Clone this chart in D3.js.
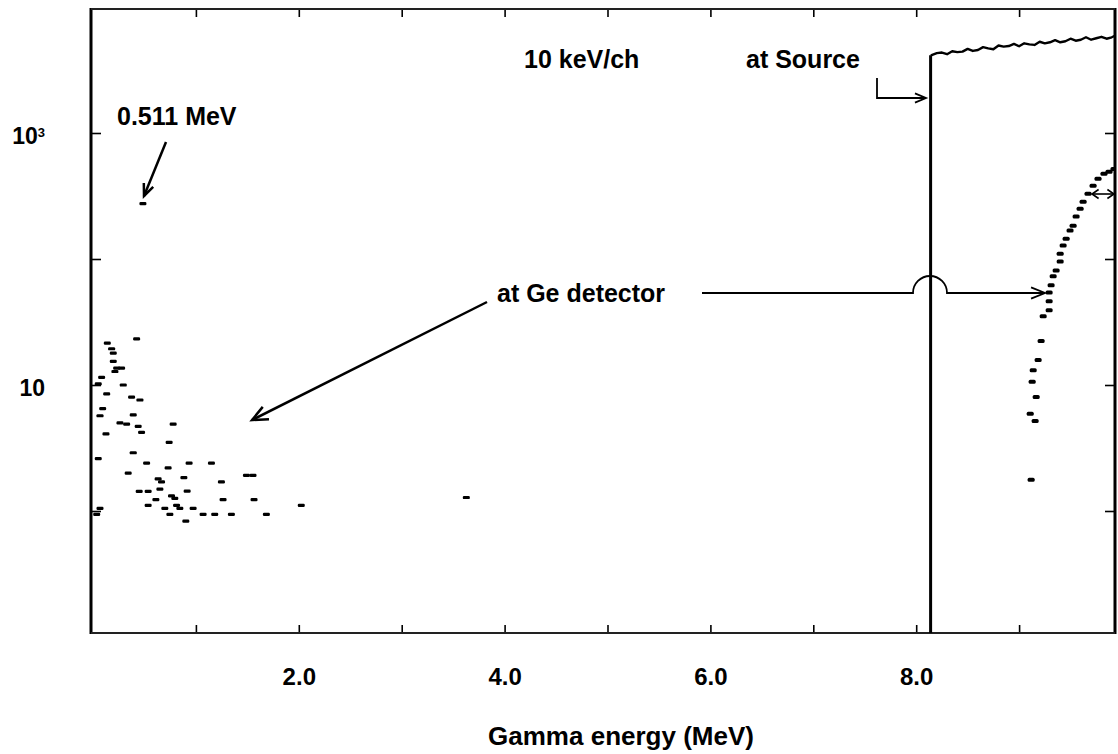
<!DOCTYPE html>
<html><head><meta charset="utf-8">
<script src="https://cdn.jsdelivr.net/npm/d3@7"></script>
<style>
body{margin:0;background:#fff}
svg{display:block}
text{font-family:"Liberation Sans",Arial,Helvetica,sans-serif;font-weight:bold;fill:#000}
</style>
</head><body>
<svg id="c" width="1118" height="754"></svg>
<script>
// ---------------- data ----------------
const xTicks = [1, 2, 3, 4, 5, 6, 7, 8, 9];
const xTickLabels = {2: "2.0", 4: "4.0", 6: "6.0", 8: "8.0"};
const yTicks = [1, 10, 100, 1000];

// "at Source" spectrum (counts / 10 keV channel)
const sourceEdge = 8.14;
const sourceEnergy = [8.15,8.20,8.25,8.30,8.35,8.40,8.45,8.50,8.55,8.60,8.65,8.70,8.75,8.80,8.85,8.90,8.95,9.00,
                      9.05,9.10,9.15,9.20,9.25,9.30,9.35,9.40,9.45,9.50,9.55,9.60,9.65,9.70,9.75,9.80,9.85,9.90,9.93];
const sourceCounts = [4150,4300,4350,4220,4450,4380,4420,4650,4480,4560,4800,4700,4620,4950,4850,4900,5100,4880,
                      5150,5050,5000,5300,5150,5250,5450,5250,5350,5600,5400,5500,5750,5500,5650,5800,5600,5750,5900];

// "at Ge detector" spectrum, low-energy part
const geLowEnergy = [0.424,0.139,0.181,0.197,0.197,0.230,0.278,0.213,0.084,0.294,0.051,0.133,0.375,0.456,0.094,0.068,
                     0.391,0.262,0.327,0.439,0.472,0.779,0.126,0.740,0.391,0.051,0.521,0.730,0.934,1.151,0.342,0.633,
                     0.666,0.883,1.248,1.491,1.555,0.650,0.449,0.536,0.915,0.763,0.795,0.611,1.264,1.565,0.536,0.812,
                     0.698,0.844,0.973,0.068,0.036,0.747,1.070,1.183,1.345,1.685,2.024,0.902,3.628,0.485];
const geLowCounts  = [23.2,21.5,19.4,17.9,15.4,13.6,13.6,12.8,11.5,10.0,10.2,8.5,8.0,7.6,6.5,5.7,
                      5.8,5.0,4.9,4.7,4.2,4.9,4.1,3.5,2.9,2.6,2.4,2.2,2.4,2.4,2.0,1.8,
                      1.7,1.84,1.7,1.92,1.92,1.49,1.43,1.43,1.44,1.32,1.26,1.23,1.23,1.23,1.11,1.11,
                      1.05,1.05,1.05,1.05,0.94,0.94,0.94,0.94,0.94,0.94,1.11,0.83,1.28,275];

// "at Ge detector" spectrum, high-energy part
const geHighEnergy = [9.117,9.156,9.108,9.166,9.127,9.137,9.185,9.214,9.234,9.292,9.292,9.292,9.311,9.331,9.360,
                      9.399,9.399,9.428,9.457,9.495,9.525,9.554,9.593,9.622,9.670,9.719,9.767,9.825,9.874,9.922];
const geHighCounts = [1.77,5.19,5.90,8.04,10.6,13.1,15.8,22.3,35.1,39.2,46.1,54.3,61.8,72.8,81.1,
                      95.5,110,128,145,168,184,217,251,285,330,381,433,474,492,519];

// ---------------- layout ----------------
const svg = d3.select("#c");
const L = 91, R = 1115, T = 9, B = 633;
const x = d3.scaleLinear().domain([0, 10]).range([93, 1122]);
const y = d3.scaleLog().domain([1, 1000]).range([511, 133]);

svg.append("defs").append("clipPath").attr("id", "clip")
  .append("rect").attr("x", L).attr("y", T).attr("width", R - L).attr("height", B - T);

// axes (inward ticks)
const gB = svg.append("g").attr("transform", `translate(0,${B})`)
  .call(d3.axisBottom(x).tickValues(xTicks).tickSize(-8).tickPadding(35).tickFormat(d => xTickLabels[d] || ""));
const gT = svg.append("g").attr("transform", `translate(0,${T})`)
  .call(d3.axisTop(x).tickValues(xTicks).tickSize(-8).tickFormat(""));
const gL = svg.append("g").attr("transform", `translate(${L},0)`)
  .call(d3.axisLeft(y).tickValues(yTicks).tickSize(-10).tickPadding(46)
        .tickFormat(d => (d === 10 || d === 1000) ? "10" : ""));
const gR = svg.append("g").attr("transform", `translate(${R},0)`)
  .call(d3.axisRight(y).tickValues(yTicks).tickSize(-10).tickFormat(""));
[gB, gT, gL, gR].forEach(g => {
  g.select(".domain").remove();
  g.selectAll(".tick line").attr("stroke", "#000").attr("stroke-width", 1.6);
  g.selectAll("text").style("font-size", "24px").style("font-family", '"Liberation Sans",Arial,sans-serif')
    .style("font-weight", "bold").attr("fill", "#000");
});
gL.selectAll(".tick text").style("font-size", "23px").attr("dy", "0.45em");
gL.selectAll(".tick").filter(d => d === 1000).select("text")
  .append("tspan").attr("dy", "-0.55em").style("font-size", "13px").text("3");

// frame
svg.append("line").attr("x1", L).attr("x2", L).attr("y1", T - 1).attr("y2", B + 1).attr("stroke", "#000").attr("stroke-width", 3);
svg.append("line").attr("x1", R).attr("x2", R).attr("y1", T - 1).attr("y2", B + 1).attr("stroke", "#000").attr("stroke-width", 3);
svg.append("line").attr("x1", L).attr("x2", R).attr("y1", T).attr("y2", T).attr("stroke", "#222").attr("stroke-width", 2);
svg.append("line").attr("x1", L).attr("x2", R).attr("y1", B).attr("y2", B).attr("stroke", "#222").attr("stroke-width", 2.2);

const plot = svg.append("g").attr("clip-path", "url(#clip)");

// source spectrum: step edge + noisy top
plot.append("line")
  .attr("x1", x(sourceEdge)).attr("x2", x(sourceEdge))
  .attr("y1", B).attr("y2", y(sourceCounts[0]))
  .attr("stroke", "#000").attr("stroke-width", 3);
const src = sourceEnergy.map((e, i) => [e, sourceCounts[i]]);
src.unshift([sourceEdge, sourceCounts[0]]);
plot.append("path").datum(src)
  .attr("d", d3.line().x(d => x(d[0])).y(d => y(d[1])))
  .attr("fill", "none").attr("stroke", "#000").attr("stroke-width", 2.4).attr("stroke-linejoin", "round");

// Ge detector points (short dashes)
const geLow = geLowEnergy.map((e, i) => [e, geLowCounts[i]]);
const geHigh = geHighEnergy.map((e, i) => [e, geHighCounts[i]]);
plot.selectAll("rect.lo").data(geLow).join("rect").attr("class", "lo")
  .attr("x", d => x(d[0]) - 3.5).attr("y", d => y(d[1]) - 1.6)
  .attr("width", 7).attr("height", 3.2).attr("rx", 1.2).attr("fill", "#000");
plot.selectAll("rect.hi").data(geHigh).join("rect").attr("class", "hi")
  .attr("x", d => x(d[0]) - 3.5).attr("y", d => y(d[1]) - 2)
  .attr("width", 7).attr("height", 4).attr("rx", 1.5).attr("fill", "#000");

// ---------------- annotations ----------------
function head(g, tx, ty, ang, len, spread, w) {
  const a1 = ang + Math.PI - spread, a2 = ang + Math.PI + spread;
  g.append("path")
    .attr("d", `M${tx + len * Math.cos(a1)},${ty + len * Math.sin(a1)}L${tx},${ty}L${tx + len * Math.cos(a2)},${ty + len * Math.sin(a2)}`)
    .attr("fill", "none").attr("stroke", "#000").attr("stroke-width", w).attr("stroke-linejoin", "miter");
}
const ann = svg.append("g");
function txt(s, xx, yy, size, anchor) {
  ann.append("text").attr("x", xx).attr("y", yy).attr("text-anchor", anchor || "start")
    .style("font-size", size + "px").text(s);
}
txt("0.511 MeV", 117, 125, 25);
txt("10 keV/ch", 524, 68, 25);
txt("at Source", 746, 68, 25);
txt("at Ge detector", 497, 302, 25);
txt("Gamma energy (MeV)", 621, 745, 26, "middle");

// 0.511 arrow
ann.append("line").attr("x1", 166).attr("y1", 142).attr("x2", 144).attr("y2", 196).attr("stroke", "#000").attr("stroke-width", 2.5);
head(ann, 144, 196, Math.atan2(196 - 142, 144 - 166), 13, 0.4, 2.5);

// Ge detector arrow (to low-energy part)
ann.append("line").attr("x1", 487).attr("y1", 302).attr("x2", 252).attr("y2", 420).attr("stroke", "#000").attr("stroke-width", 2.5);
head(ann, 252, 420, Math.atan2(420 - 302, 252 - 487), 17, 0.42, 2.5);

// Ge detector arrow (to high-energy part) with hop over the source edge
ann.append("path")
  .attr("d", "M702,293 L913,293 A17,17 0 0 1 947,293 L1045,293")
  .attr("fill", "none").attr("stroke", "#000").attr("stroke-width", 1.8);
head(ann, 1045, 293, 0, 15, 0.38, 1.8);

// Source arrow
ann.append("path").attr("d", "M877,78 L877,98 L926,98")
  .attr("fill", "none").attr("stroke", "#000").attr("stroke-width", 1.8);
head(ann, 926, 98, 0, 12, 0.4, 1.8);

// small double arrow near right edge
ann.append("line").attr("x1", 1092).attr("y1", 194).attr("x2", 1114).attr("y2", 194).attr("stroke", "#000").attr("stroke-width", 1.6);
head(ann, 1092, 194, Math.PI, 8, 0.6, 1.6);
head(ann, 1114, 194, 0, 8, 0.6, 1.6);
</script>
</body></html>
